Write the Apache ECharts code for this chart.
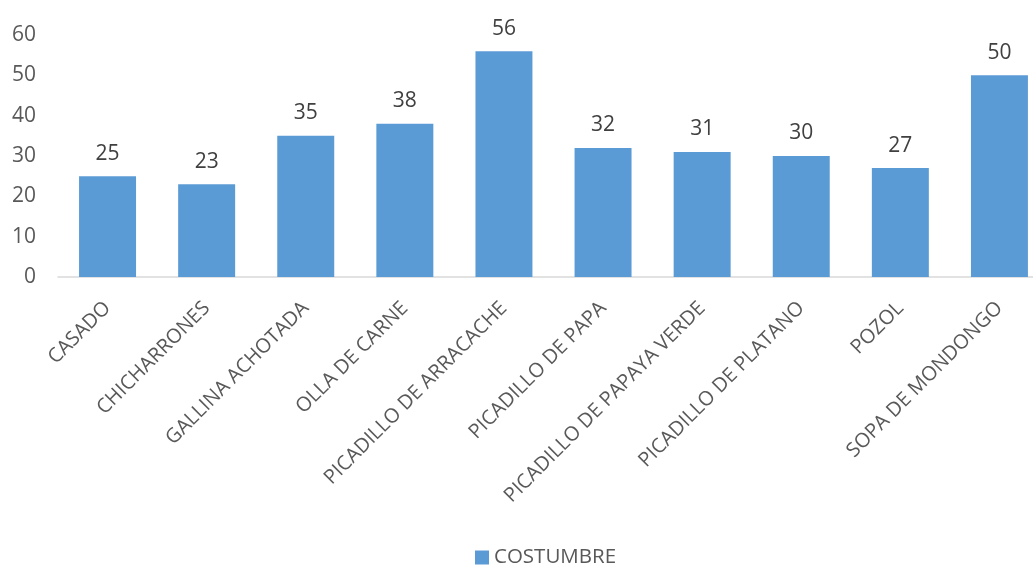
<!DOCTYPE html>
<html>
<head>
<meta charset="utf-8">
<style>
  html, body { margin: 0; padding: 0; background: #fff; }
  #chart { width: 1033px; height: 565px; }
</style>
<script src="https://cdn.jsdelivr.net/npm/echarts@6/dist/echarts.min.js"></script>
</head>
<body>
<div id="chart"></div>
<script>
// Platos y frecuencia por costumbre
const categories = [
  'CASADO', 'CHICHARRONES', 'GALLINA ACHOTADA', 'OLLA DE CARNE',
  'PICADILLO DE ARRACACHE', 'PICADILLO DE PAPA', 'PICADILLO DE PAPAYA VERDE',
  'PICADILLO DE PLATANO', 'POZOL', 'SOPA DE MONDONGO'
];
const costumbre = [25, 23, 35, 38, 56, 32, 31, 30, 27, 50];
const yTicks = { min: 0, max: 60, interval: 10 };
const seriesName = 'COSTUMBRE';

const fontFamily = '"Open Sans", "Noto Sans", sans-serif';
const chart = echarts.init(document.getElementById('chart'), null, { renderer: 'canvas' });

chart.setOption({
  animation: false,
  textStyle: { fontFamily },
  // the plot area runs slightly past the right edge of the canvas
  grid: {
    left: 58, width: 991, top: 35, bottom: 288,
    containLabel: false, outerBoundsMode: 'none'
  },
  legend: {
    top: 542,
    left: 470,
    itemWidth: 14,
    itemHeight: 14,
    itemGap: 10,
    icon: 'rect',
    textStyle: { fontSize: 20.5, color: '#595959', fontFamily },
    data: [seriesName]
  },
  xAxis: {
    type: 'category',
    data: categories,
    axisLine: { lineStyle: { color: '#d9d9d9', width: 1.5 } },
    axisTick: { show: false },
    axisLabel: {
      rotate: 45,
      interval: 0,
      fontSize: 20,
      color: '#595959',
      margin: 28,
      fontFamily
    }
  },
  yAxis: {
    type: 'value',
    min: yTicks.min,
    max: yTicks.max,
    interval: yTicks.interval,
    splitLine: { show: false },
    axisLine: { show: false },
    axisTick: { show: false },
    axisLabel: { fontSize: 21, color: '#595959', margin: 22, fontFamily }
  },
  series: [{
    name: seriesName,
    type: 'bar',
    data: costumbre,
    barWidth: '57.5%',
    itemStyle: { color: '#5b9bd5' },
    label: {
      show: true,
      position: 'top',
      distance: 12,
      fontSize: 21,
      color: '#404040',
      fontFamily
    }
  }]
});
</script>
</body>
</html>
